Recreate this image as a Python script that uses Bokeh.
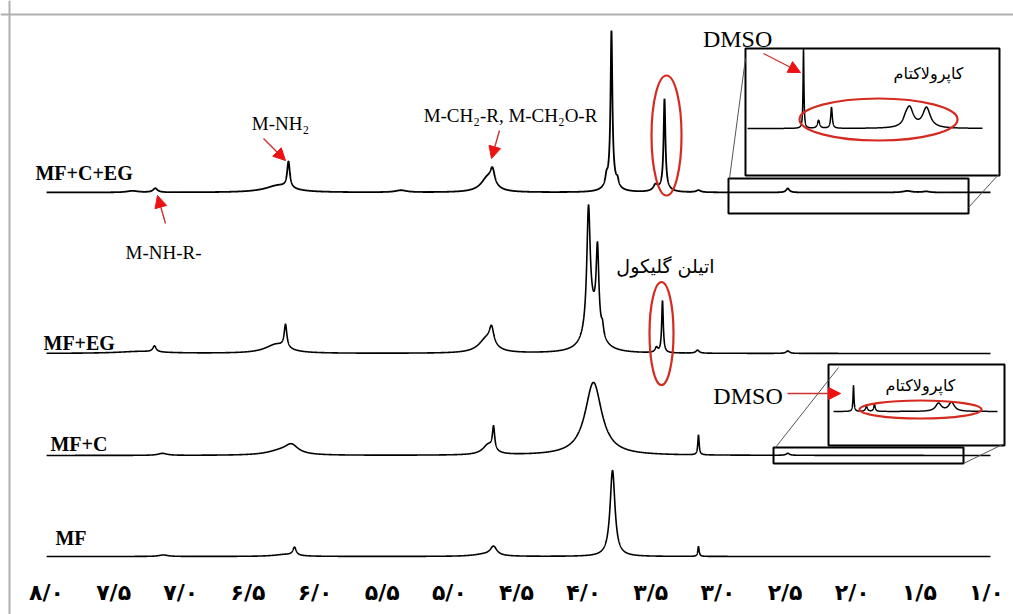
import numpy as np
from bokeh.plotting import figure
from bokeh.models import Range1d, Span, Arrow, NormalHead, ColumnDataSource
from bokeh.core.properties import value
from bokeh.embed import file_html
from bokeh.resources import INLINE

# ---------------- data ----------------
tick_ppm = [8.0, 7.5, 7.0, 6.5, 6.0, 5.5, 5.0, 4.5, 4.0, 3.5, 3.0, 2.5, 2.0, 1.5, 1.0]
tick_labels = ["۸/۰", "۷/۵", "۷/۰", "۶/۵", "۶/۰", "۵/۵", "۵/۰", "۴/۵", "۴/۰",
               "۳/۵", "۳/۰", "۲/۵", "۲/۰", "۱/۵", "۱/۰"]

series_names = ["MF+C+EG", "MF+EG", "MF+C", "MF"]

# peak lists: position (ppm), height (a.u.), half width (ppm)
mfceg_pos = [7.36, 7.19, 6.27, 6.198, 5.36, 4.716, 4.679, 3.793, 3.793, 3.830, 3.748, 3.465, 3.398, 3.398, 3.145, 2.48, 1.59, 1.45]
mfceg_h   = [1.5, 4, 7, 26, 2, 14, 15, 147, 14, 8, 6, 6, 88, 5, 2, 4, 1.5, 1]
mfceg_w   = [0.05, 0.02, 0.12, 0.012, 0.05, 0.06, 0.02, 0.008, 0.04, 0.01, 0.01, 0.02, 0.008, 0.04, 0.02, 0.015, 0.04, 0.03]

mfeg_pos = [7.30, 7.196, 6.287, 6.22, 4.7235, 4.686, 3.964, 3.897, 3.934, 3.860, 3.458, 3.413, 3.152, 2.48]
mfeg_h   = [2, 6, 9, 23, 14, 17, 118, 80, 35, 10, 5, 52, 3, 2.5]
mfeg_w   = [0.2, 0.015, 0.1, 0.012, 0.07, 0.02, 0.015, 0.012, 0.06, 0.01, 0.012, 0.007, 0.015, 0.015]

mfc_pos = [7.136, 6.26, 6.176, 4.71, 4.671, 3.927, 3.145, 2.48]
mfc_h   = [2, 4, 9, 10, 23, 73, 20, 2]
mfc_w   = [0.04, 0.12, 0.06, 0.05, 0.01, 0.075, 0.006, 0.015]

mf_pos = [7.13, 6.22, 6.153, 4.74, 4.671, 3.785, 3.145]
mf_h   = [1.5, 2, 8, 2, 9, 86, 10]
mf_w   = [0.04, 0.1, 0.015, 0.1, 0.03, 0.022, 0.006]

# magnified insets (caprolactam region)
inset1_pos = [2.4955, 2.381, 2.2825, 1.7197, 1.6891, 1.5598]
inset1_h   = [79, 8, 21, 4, 20, 20]
inset1_w   = [0.004, 0.01, 0.007, 0.02, 0.035, 0.035]

inset2_pos = [2.4138, 2.3017, 2.2327, 1.6804, 1.5683]
inset2_h   = [26, 5, 7, 8, 9]
inset2_w   = [0.005, 0.01, 0.008, 0.03, 0.03]

# ---------------- layout constants ----------------
baselines = [414, 253, 151, 50]
line_widths = [1.8, 1.6, 1.6, 1.6]


def spectrum(x, pos, h, w):
    y = np.zeros_like(x)
    for p0, h0, w0 in zip(pos, h, w):
        y += h0 * w0 ** 2 / ((x - p0) ** 2 + w0 ** 2)
    return y


p = figure(width=1013, height=614, x_range=Range1d(8.3425, 0.7992), y_range=Range1d(-8, 606),
           x_axis_location=None, y_axis_location=None, toolbar_location=None, tools="",
           output_backend="svg", title=None,
           min_border_left=0, min_border_right=0, min_border_top=0, min_border_bottom=0)
p.outline_line_color = None
p.background_fill_color = "white"
p.border_fill_color = "white"
p.xgrid.visible = False
p.ygrid.visible = False

# frame lines (top and left)
p.add_layout(Span(location=592, dimension="width", line_color="#b0b0b0", line_width=2))
p.add_layout(Span(location=8.2755, dimension="height", line_color="#b0b0b0", line_width=2))

# main spectra
x = np.arange(0.9705, 8.0, 0.0008)
peaks = [(mfceg_pos, mfceg_h, mfceg_w), (mfeg_pos, mfeg_h, mfeg_w),
         (mfc_pos, mfc_h, mfc_w), (mf_pos, mf_h, mf_w)]
for (pp, hh, ww), b, lw in zip(peaks, baselines, line_widths):
    p.line(x, b + spectrum(x, pp, hh, ww), line_color="black", line_width=lw)

# zoom boxes
box_kw = dict(line_color="black", line_width=2)
p.quad(left=[2.9215, 2.5863], right=[1.134, 1.1715], bottom=[393, 143], top=[428, 159],
       fill_color=None, **box_kw)
p.quad(left=[2.795, 2.1767], right=[0.9035, 0.8662], bottom=[431, 161], top=[558, 242],
       fill_color="white", **box_kw)
p.segment(x0=[2.914, 1.134, 2.5714, 1.1715], y0=[428, 399, 159, 143],
          x1=[2.795, 0.9035, 2.1023, 0.8662], y1=[548, 433, 239, 163],
          line_color="#555555", line_width=1)


def inset_line(pos, h, w, src, disp, base):
    xs = np.arange(min(src), max(src), 0.0005)
    ys = base + spectrum(xs, pos, h, w)
    bfac = (disp[1] - disp[0]) / (src[1] - src[0])
    xd = disp[0] + (xs - src[0]) * bfac
    p.line(xd, ys, line_color="black", line_width=1.5)


inset_line(inset1_pos, inset1_h, inset1_w, (2.9215, 1.134), (2.780, 1.030), 478)
inset_line(inset2_pos, inset2_h, inset2_w, (2.5863, 1.1715), (2.1395, 0.9184), 195)

# red ellipses
p.ellipse(x=[1.8044, 1.4917, 3.383, 3.4203], y=[487, 197, 471, 273],
          width=[158, 122, 30, 24], height=[42, 18, 120, 103],
          width_units="screen", height_units="screen",
          fill_color=None, line_color="#d42a20", line_width=2.2)

# tick labels
p.text(x=tick_ppm, y=[14] * len(tick_ppm), text=tick_labels,
       text_font=value("DejaVu Sans"), text_font_style="bold", text_font_size="22px",
       text_align="center", text_baseline="middle", text_color="black")

# series labels
p.text(x=[8.0819, 8.0223, 7.9702, 7.933], y=[434, 264, 163, 69], text=series_names,
       text_font=value("Liberation Serif"), text_font_style="bold", text_font_size="20px",
       text_align="left", text_baseline="middle", text_color="black")

# annotations
p.text(x=[6.2575, 7.1288, 4.5448], y=[483, 354, 491],
       text=["M-NH₂", "M-NH-R-", "M-CH₂-R, M-CH₂O-R"],
       text_font=value("Liberation Serif"), text_font_size="19px",
       text_align="center", text_baseline="middle", text_color="black")
p.text(x=[2.854, 2.776], y=[568, 211], text=["DMSO", "DMSO"],
       text_font=value("Liberation Serif"), text_font_size="24px",
       text_align="center", text_baseline="middle", text_color="black")
p.text(x=[3.3906], y=[341], text=["اتیلن گلیکول"],
       text_font=value("DejaVu Sans"), text_font_size="19px",
       text_align="center", text_baseline="middle", text_color="black")
p.text(x=[1.432, 1.4917], y=[533, 221], text=["کاپرولاکتام", "کاپرولاکتام"],
       text_font=value("DejaVu Sans"), text_font_size="16px",
       text_align="center", text_baseline="middle", text_color="black")

arrows = ColumnDataSource(dict(
    xs=[6.3841, 7.1138, 4.6267, 2.661, 2.4821],
    ys=[468, 383, 476, 553, 213],
    xe=[6.2203, 7.1734, 4.6863, 2.385, 2.0874],
    ye=[446, 411, 448, 534, 213],
))
p.add_layout(Arrow(x_start="xs", y_start="ys", x_end="xe", y_end="ye", source=arrows,
                   line_color="#cc3333", line_width=1.4,
                   end=NormalHead(size=12, fill_color="#ee1111", line_color="#ee1111")))

open("out.html", "w").write(file_html(p, INLINE))
